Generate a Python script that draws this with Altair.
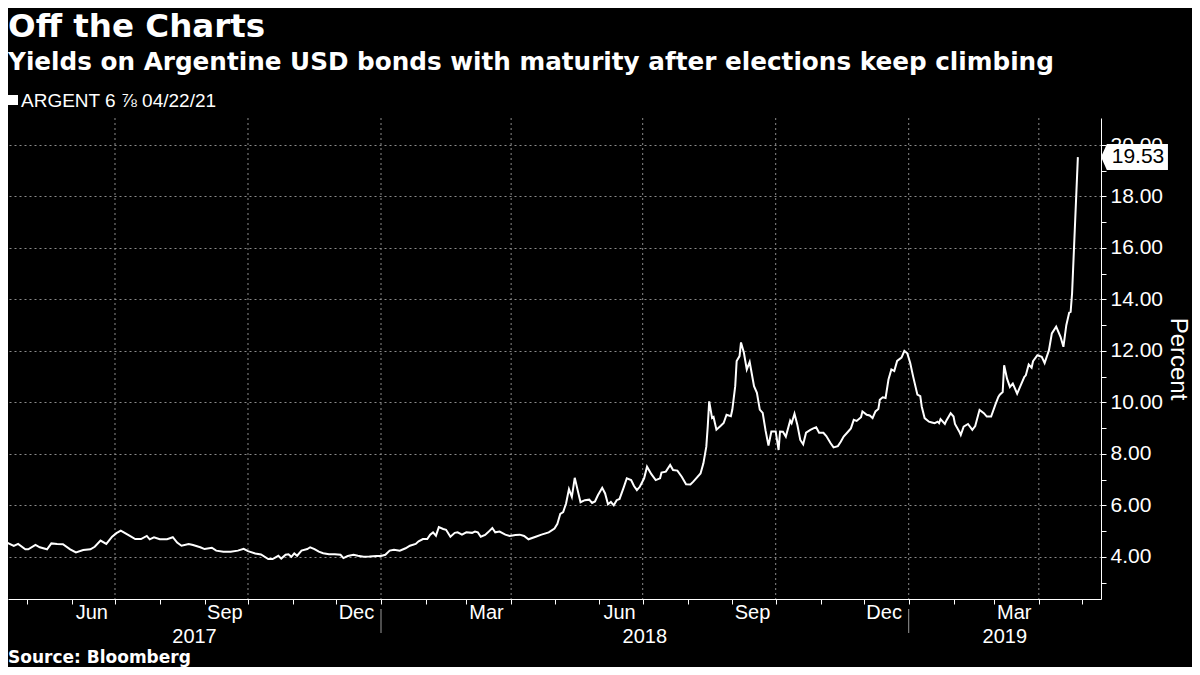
import altair as alt
import pandas as pd

# ---------------- data ----------------
dates = [
    "2017-04-12", "2017-04-17", "2017-04-22", "2017-04-25", "2017-04-30", "2017-05-02", "2017-05-07", "2017-05-10", "2017-05-15", "2017-05-18",
    "2017-05-22", "2017-05-26", "2017-05-31", "2017-06-04", "2017-06-09", "2017-06-14", "2017-06-17", "2017-06-21", "2017-06-25", "2017-06-29",
    "2017-07-02", "2017-07-05", "2017-07-08", "2017-07-11", "2017-07-15", "2017-07-19", "2017-07-23", "2017-07-25", "2017-07-28", "2017-08-01",
    "2017-08-06", "2017-08-10", "2017-08-13", "2017-08-16", "2017-08-21", "2017-08-24", "2017-08-29", "2017-09-01", "2017-09-06", "2017-09-09",
    "2017-09-14", "2017-09-19", "2017-09-24", "2017-09-28", "2017-10-01", "2017-10-06", "2017-10-10", "2017-10-15", "2017-10-18", "2017-10-22",
    "2017-10-24", "2017-10-27", "2017-10-29", "2017-10-31", "2017-11-02", "2017-11-04", "2017-11-07", "2017-11-11", "2017-11-13", "2017-11-16",
    "2017-11-19", "2017-11-22", "2017-11-26", "2017-11-30", "2017-12-04", "2017-12-06", "2017-12-09", "2017-12-13", "2017-12-16", "2017-12-20",
    "2017-12-24", "2017-12-29", "2018-01-01", "2018-01-04", "2018-01-07", "2018-01-10", "2018-01-14", "2018-01-18", "2018-01-21", "2018-01-25",
    "2018-01-27", "2018-01-30", "2018-02-02", "2018-02-04", "2018-02-06", "2018-02-08", "2018-02-10", "2018-02-13", "2018-02-15", "2018-02-18",
    "2018-02-21", "2018-02-23", "2018-02-26", "2018-03-01", "2018-03-05", "2018-03-07", "2018-03-09", "2018-03-11", "2018-03-14", "2018-03-16",
    "2018-03-19", "2018-03-21", "2018-03-24", "2018-03-28", "2018-03-31", "2018-04-04", "2018-04-07", "2018-04-10", "2018-04-13", "2018-04-18",
    "2018-04-22", "2018-04-27", "2018-05-01", "2018-05-03", "2018-05-05", "2018-05-07", "2018-05-09", "2018-05-11", "2018-05-13", "2018-05-15",
    "2018-05-17", "2018-05-19", "2018-05-22", "2018-05-25", "2018-05-27", "2018-05-29", "2018-05-31", "2018-06-03", "2018-06-05", "2018-06-07",
    "2018-06-09", "2018-06-11", "2018-06-13", "2018-06-15", "2018-06-18", "2018-06-20", "2018-06-23", "2018-06-25", "2018-06-27", "2018-06-29",
    "2018-07-02", "2018-07-04", "2018-07-07", "2018-07-10", "2018-07-13", "2018-07-14", "2018-07-17", "2018-07-20", "2018-07-22", "2018-07-25",
    "2018-07-28", "2018-07-31", "2018-08-03", "2018-08-05", "2018-08-07", "2018-08-10", "2018-08-12", "2018-08-14", "2018-08-15", "2018-08-16",
    "2018-08-18", "2018-08-19", "2018-08-21", "2018-08-24", "2018-08-26", "2018-08-28", "2018-08-31", "2018-09-01", "2018-09-03", "2018-09-04",
    "2018-09-06", "2018-09-07", "2018-09-09", "2018-09-11", "2018-09-13", "2018-09-16", "2018-09-18", "2018-09-20", "2018-09-22", "2018-09-24",
    "2018-09-26", "2018-09-28", "2018-09-30", "2018-10-01", "2018-10-03", "2018-10-04", "2018-10-06", "2018-10-08", "2018-10-11", "2018-10-12",
    "2018-10-14", "2018-10-16", "2018-10-18", "2018-10-20", "2018-10-22", "2018-10-25", "2018-10-27", "2018-10-29", "2018-10-31", "2018-11-03",
    "2018-11-05", "2018-11-08", "2018-11-10", "2018-11-13", "2018-11-15", "2018-11-17", "2018-11-20", "2018-11-22", "2018-11-24", "2018-11-26",
    "2018-11-29", "2018-11-30", "2018-12-03", "2018-12-05", "2018-12-07", "2018-12-09", "2018-12-11", "2018-12-12", "2018-12-14", "2018-12-16",
    "2018-12-18", "2018-12-20", "2018-12-22", "2018-12-24", "2018-12-27", "2018-12-29", "2018-12-31", "2019-01-02", "2019-01-04", "2019-01-07",
    "2019-01-09", "2019-01-10", "2019-01-12", "2019-01-15", "2019-01-17", "2019-01-19", "2019-01-21", "2019-01-22", "2019-01-23", "2019-01-26",
    "2019-01-27", "2019-01-30", "2019-02-01", "2019-02-02", "2019-02-05", "2019-02-06", "2019-02-08", "2019-02-11", "2019-02-14", "2019-02-16",
    "2019-02-19", "2019-02-22", "2019-02-24", "2019-02-27", "2019-03-02", "2019-03-04", "2019-03-05", "2019-03-07", "2019-03-08", "2019-03-10",
    "2019-03-12", "2019-03-14", "2019-03-17", "2019-03-19", "2019-03-22", "2019-03-23", "2019-03-25", "2019-03-27", "2019-03-28", "2019-03-31",
    "2019-04-03", "2019-04-05", "2019-04-08", "2019-04-10", "2019-04-13", "2019-04-16", "2019-04-18", "2019-04-20", "2019-04-22", "2019-04-23",
    "2019-04-24", "2019-04-28",
]
values = [
    4.65, 4.56, 4.42, 4.50, 4.29, 4.29, 4.46, 4.37, 4.29, 4.52,
    4.50, 4.49, 4.29, 4.17, 4.26, 4.29, 4.39, 4.63, 4.50, 4.78,
    4.92, 5.02, 4.92, 4.82, 4.69, 4.69, 4.81, 4.68, 4.76, 4.68,
    4.68, 4.76, 4.55, 4.43, 4.50, 4.46, 4.37, 4.30, 4.35, 4.24,
    4.20, 4.20, 4.24, 4.31, 4.22, 4.13, 4.09, 3.91, 3.91, 4.04,
    3.93, 4.08, 4.10, 4.00, 4.13, 4.04, 4.24, 4.30, 4.37, 4.30,
    4.20, 4.14, 4.10, 4.10, 4.08, 3.95, 4.03, 4.08, 4.04, 4.00,
    4.01, 4.03, 4.03, 4.08, 4.24, 4.27, 4.24, 4.33, 4.43, 4.50,
    4.60, 4.69, 4.69, 4.86, 4.95, 4.82, 5.15, 5.08, 5.05, 4.78,
    4.93, 4.95, 4.86, 4.95, 4.93, 4.98, 4.95, 4.78, 4.85, 4.95,
    5.12, 4.95, 4.98, 4.86, 4.81, 4.85, 4.86, 4.81, 4.68, 4.78,
    4.86, 4.95, 5.10, 5.28, 5.67, 5.74, 6.07, 6.63, 6.33, 7.07,
    6.59, 6.12, 6.20, 6.22, 6.09, 6.15, 6.39, 6.68, 6.46, 6.04,
    6.13, 6.00, 6.20, 6.25, 6.72, 7.05, 6.98, 6.75, 6.59, 6.72,
    7.05, 7.50, 7.21, 6.98, 7.05, 7.27, 7.31, 7.57, 7.37, 7.35,
    7.11, 6.82, 6.81, 6.92, 7.05, 7.24, 7.63, 8.28, 9.07, 10.04,
    9.39, 9.43, 8.94, 9.09, 9.20, 9.52, 9.46, 9.72, 10.63, 11.61,
    11.80, 12.33, 11.93, 11.28, 11.57, 10.63, 10.37, 9.72, 9.59, 8.90,
    8.32, 8.87, 8.87, 8.87, 8.15, 8.87, 8.86, 8.67, 9.29, 9.19,
    9.56, 9.12, 8.54, 8.37, 8.82, 8.93, 8.99, 9.03, 8.82, 8.82,
    8.69, 8.41, 8.25, 8.30, 8.47, 8.67, 8.86, 8.99, 9.32, 9.28,
    9.42, 9.65, 9.52, 9.49, 9.39, 9.65, 9.74, 10.10, 10.20, 10.17,
    10.89, 11.28, 11.22, 11.61, 11.74, 12.00, 11.91, 11.54, 11.02, 10.30,
    10.24, 9.84, 9.39, 9.25, 9.22, 9.19, 9.25, 9.19, 9.35, 9.16,
    9.29, 9.58, 9.45, 9.16, 8.86, 8.73, 9.06, 9.16, 8.93, 9.08,
    9.71, 9.58, 9.45, 9.45, 9.92, 10.21, 10.30, 10.40, 11.44, 10.92,
    10.60, 10.73, 10.34, 10.60, 10.99, 11.05, 11.47, 11.35, 11.60, 11.83,
    11.77, 11.53, 12.03, 12.68, 12.94, 12.55, 12.16, 13.00, 13.49, 13.52,
    14.24, 19.53,
]
assert len(dates) == len(values)

quarter_starts = ["2017-07-01", "2017-10-01", "2018-01-01", "2018-04-01",
                  "2018-07-01", "2018-10-01", "2019-01-01", "2019-04-01"]
month_label_dates = ["2017-06-15", "2017-09-15", "2017-12-15", "2018-03-15",
                     "2018-06-15", "2018-09-15", "2018-12-15", "2019-03-15"]
month_labels = ["Jun", "Sep", "Dec", "Mar", "Jun", "Sep", "Dec", "Mar"]
year_labels = ["2017", "2018", "2019"]
year_breaks = ["2018-01-01", "2019-01-01"]
x_start = "2017-04-18"
x_end = "2019-05-14"
y_min, y_max = 2.36, 21.05
y_tick_values = list(range(3, 21))

title_text = "Off the Charts"
subtitle_text = "Yields on Argentine USD bonds with maturity after elections keep climbing"
legend_text = "ARGENT 6 \u215e 04/22/21"
source_text = "Source: Bloomberg"
y_title = "Percent"

# ---------------- styling ----------------
W, H = 1093, 481
GRID = "#8a8a8a"
LABEL_FONT = "Liberation Sans"
TITLE_FONT = "DejaVu Sans"

xs, xe = pd.Timestamp(x_start), pd.Timestamp(x_end)


def dt(ts):
    return alt.DateTime(year=ts.year, month=ts.month, date=ts.day)


xscale = alt.Scale(domain=[dt(xs), dt(xe)])
yscale = alt.Scale(domain=[y_min, y_max], nice=False, zero=False)

df = pd.DataFrame({"date": pd.to_datetime(dates), "value": values})

line = alt.Chart(df).mark_line(color="white", strokeWidth=2, clip=True).encode(
    x=alt.X("date:T", scale=xscale, axis=alt.Axis(
        title=None, labels=False, grid=False, ticks=True, tickSize=5,
        tickColor="white", tickWidth=1, domainColor="white", domainWidth=1,
        tickCount={"interval": "month", "step": 1})),
    y=alt.Y("value:Q", scale=yscale, axis=alt.Axis(
        orient="right", values=y_tick_values,
        labelExpr="datum.value % 2 == 0 ? format(datum.value, '.2f') : ''",
        labelColor="white", labelFont=LABEL_FONT, labelFontSize=21,
        labelPadding=4, labelOverlap=False,
        ticks=True, tickSize=5, tickColor="white", domainColor="white",
        grid=True, gridColor=GRID, gridDash=[2, 3],
        gridOpacity={"condition": {"test": "datum.value % 2 == 0", "value": 1}, "value": 0},
        title=y_title, titleColor="white", titleFont=LABEL_FONT,
        titleFontSize=24, titleFontWeight="normal", titlePadding=3)),
)

vgrid = alt.Chart(pd.DataFrame({"d": pd.to_datetime(quarter_starts)})).mark_rule(
    color=GRID, strokeDash=[2, 3], strokeWidth=1).encode(
    x=alt.X("d:T", scale=xscale, axis=None))

seps = alt.Chart(pd.DataFrame({"d": pd.to_datetime(year_breaks)})).mark_rule(
    color="#9a9a9a", strokeWidth=1).encode(
    x=alt.X("d:T", scale=xscale, axis=None), y=alt.value(H + 10), y2=alt.value(H + 34))

mlab = alt.Chart(pd.DataFrame({"d": pd.to_datetime(month_label_dates), "t": month_labels})).mark_text(
    color="white", font=LABEL_FONT, fontSize=20, baseline="middle", align="center").encode(
    x=alt.X("d:T", scale=xscale, axis=None), y=alt.value(H + 14), text="t:N")

# year labels centred on the visible part of each year
mids = []
for y in year_labels:
    a = max(pd.Timestamp(f"{y}-01-01"), xs)
    b = min(pd.Timestamp(f"{int(y) + 1}-01-01"), xe)
    mids.append(a + (b - a) / 2)
ylab = alt.Chart(pd.DataFrame({"d": mids, "t": year_labels})).mark_text(
    color="white", font=LABEL_FONT, fontSize=20, baseline="middle", align="center").encode(
    x=alt.X("d:T", scale=xscale, axis=None), y=alt.value(H + 38), text="t:N")

last = pd.DataFrame({"value": [values[-1]], "label": [f"{values[-1]:.2f}"]})
box = alt.Chart(last).mark_point(
    shape="M0,0L0.45,-1L5.15,-1L5.15,1L0.45,1Z", filled=True, fill="white",
    color="white", opacity=1, size=676, strokeWidth=0).encode(
    x=alt.value(W), y=alt.Y("value:Q", scale=yscale, axis=None))
boxtxt = alt.Chart(last).mark_text(
    color="black", font=LABEL_FONT, fontSize=21, align="center", baseline="middle").encode(
    x=alt.value(W + 37), y=alt.Y("value:Q", scale=yscale, axis=None), text="label:N")


def label(text, x, y, size, bold=False, font=TITLE_FONT):
    return alt.Chart(pd.DataFrame({"t": [text]})).mark_text(
        color="white", font=font, fontSize=size,
        fontWeight="bold" if bold else "normal",
        align="left", baseline="alphabetic").encode(
        x=alt.value(x), y=alt.value(y), text="t:N")


t1 = label(title_text, 0, -81, 32.5, bold=True)
t2 = label(subtitle_text, 0, -48, 24.7, bold=True)
legtxt = label(legend_text, 13, -11, 19, font=LABEL_FONT)
src = label(source_text, 0, H + 64, 17, bold=True)
legsq = alt.Chart(pd.DataFrame({"t": [legend_text]})).mark_point(
    shape="square", filled=True, color="white", opacity=1, size=100).encode(
    x=alt.value(5), y=alt.value(-18))

chart = alt.layer(
    vgrid, line, seps, mlab, ylab, box, boxtxt, t1, t2, legsq, legtxt, src
).resolve_axis(
    x="independent", y="independent"
).properties(
    width=W, height=H,
    padding={"left": 0, "top": 110, "right": 91, "bottom": 68},
    autosize=alt.AutoSizeParams(type="none"),
).configure(background="black").configure_view(strokeWidth=0)

chart.save("out.html", embed_options={"renderer": "svg", "actions": False})
